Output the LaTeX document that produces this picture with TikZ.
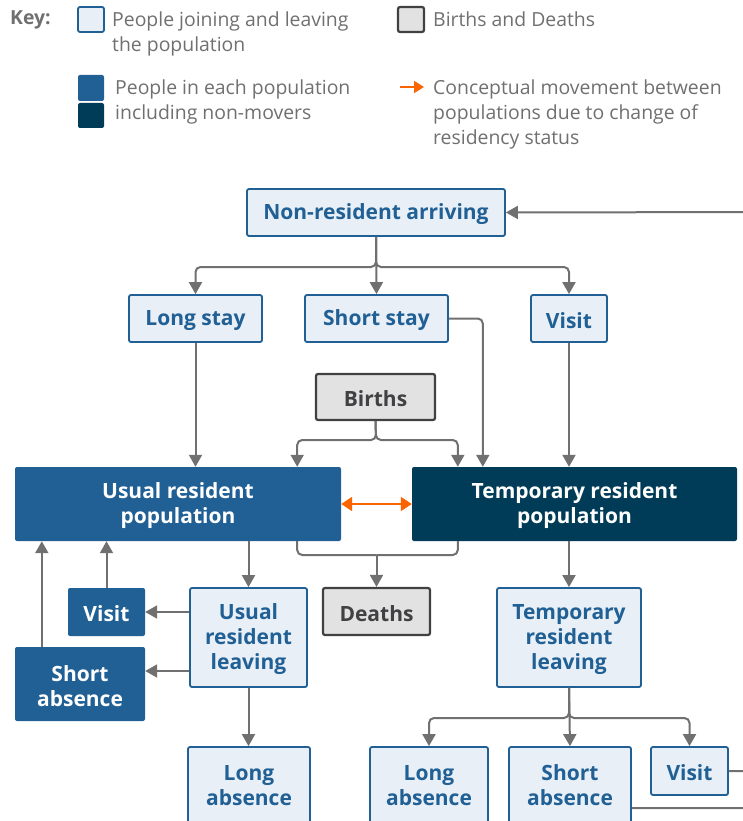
\documentclass[tikz,border=0pt]{standalone}
\usepackage{fontspec}
\setmainfont{Open Sans}
\usetikzlibrary{arrows.meta}
\definecolor{ons}{HTML}{206095}
\definecolor{onsdark}{HTML}{003C57}
\definecolor{lightfill}{HTML}{E9EFF6}
\definecolor{greyfill}{HTML}{E2E2E2}
\definecolor{greyline}{HTML}{414042}
\definecolor{conn}{HTML}{707070}
\definecolor{keytext}{HTML}{707070}
\definecolor{orng}{HTML}{FA6401}
\newcommand\bstrut{\rule{0pt}{19.8pt}}
\newcommand\kstrut{\rule{0pt}{18.6pt}}
\newcommand\dstrut{\rule[-8pt]{0pt}{8pt}}
\begin{document}
\begin{tikzpicture}[x=1pt,y=-1pt,
  boxfont/.style={font=\fontsize{21}{25}\selectfont\bfseries},
  box/.style={draw=ons, line width=1.8pt, fill=lightfill, rounded corners=2pt, text=ons, boxfont, align=center, inner sep=0pt},
  gbox/.style={draw=greyline, line width=2.2pt, fill=greyfill, rounded corners=2pt, text=greyline, boxfont, align=center, inner sep=0pt},
  pop/.style={fill=ons, rounded corners=2pt, text=white, boxfont, align=center, inner sep=0pt},
  popd/.style={pop, fill=onsdark},
  arr/.style={draw=conn, line width=2pt, -{Triangle[width=13pt,length=12pt]}, rounded corners=5pt},
  ln/.style={draw=conn, line width=2pt, rounded corners=5pt},
  keyt/.style={text=keytext, font=\fontsize{19.4}{25}\selectfont, align=left, anchor=west, inner sep=0pt},
  sz/.style 2 args={minimum width=#1, minimum height=#2},
]
\useasboundingbox (0,0) rectangle (743,821);
\clip (0,0) rectangle (743,821);
\fill[white] (0,0) rectangle (743,821);

% ---------- key ----------
\node[keyt, font=\fontsize{19.4}{25}\selectfont\bfseries] (keyl) at (10,19.5) {Key:};
\node[box, sz={26pt}{25pt}] (k1) at (91,19.5) {};
\node[keyt] (k1t) at (112,32) {\kstrut People joining and leaving\\the population};
\node[gbox, sz={26pt}{25pt}] (k2) at (411,19.5) {};
\node[keyt] (k2t) at (433,19.5) {Births and Deaths};
\node[pop, sz={26pt}{26pt}] (k3) at (91,88) {};
\node[popd, sz={26pt}{25pt}] (k4) at (91,115.5) {};
\node[keyt] (k3t) at (115,100) {\kstrut People in each population\\including non-movers};
\coordinate (ka1) at (400,87);
\coordinate (ka2) at (424,87);
\draw[draw=orng, line width=2pt, -{Triangle[width=12pt,length=10pt]}] (ka1) -- (ka2);
\node[keyt] (k4t) at (433,113) {\kstrut Conceptual movement between\\populations due to change of\\residency status};

% ---------- nodes ----------
\node[box, sz={258pt}{47pt}] (nra) at (376,212.5) {\bstrut Non-resident arriving};
\node[box, sz={133pt}{47pt}] (ls) at (195.5,318.5) {\bstrut Long stay};
\node[box, sz={143pt}{47pt}] (ss) at (376.5,318.5) {\bstrut Short stay};
\node[box, sz={76pt}{47pt}] (vis) at (569,318.5) {\bstrut Visit};
\node[gbox, sz={119pt}{46pt}] (births) at (375.5,397) {\bstrut Births};
\node[pop, sz={326pt}{74pt}] (urp) at (178,504) {\bstrut Usual resident\\population};
\node[popd, sz={325pt}{74pt}] (trp) at (574.5,504) {\bstrut Temporary resident\\population};
\node[gbox, sz={107pt}{47pt}] (deaths) at (376.5,611.5) {\bstrut Deaths};
\node[box, sz={117pt}{99pt}] (url) at (248.5,637.5) {\bstrut Usual\\resident\\leaving};
\node[pop, sz={77pt}{48pt}] (vl) at (106.5,612) {\bstrut Visit};
\node[pop, sz={130pt}{74pt}] (sal) at (80,684) {\bstrut Short\\absence};
\node[box, sz={122pt}{80pt}] (lal) at (249,787) {\bstrut Long\\absence\dstrut};
\node[box, sz={144pt}{99pt}] (trl) at (569,637.5) {\bstrut Temporary\\resident\\leaving};
\node[box, sz={118pt}{80pt}] (lar) at (429,787) {\bstrut Long\\absence\dstrut};
\node[box, sz={122pt}{80pt}] (sar) at (570,787) {\bstrut Short\\absence\dstrut};
\node[box, sz={77pt}{48pt}] (vr) at (689.5,771) {\bstrut Visit};

% ---------- connectors ----------
\coordinate (j1) at (376,267);
\draw[arr] (nra.south) -- (j1) -| (ls.north);
\draw[arr] (nra.south) -- (j1) -| (vis.north);
\draw[arr] (nra.south) -- (ss.north);

\draw[arr] (ls.south) -- (ls.south |- urp.north);
\draw[arr] (vis.south) -- (vis.south |- trp.north);
\coordinate (ssin) at ([xshift=71pt]trp.north west);
\draw[arr] (ss.east) -| (ssin);

\coordinate (jb) at (376,440);
\coordinate (bu) at ([xshift=-44pt]urp.north east);
\coordinate (bt) at ([xshift=46pt]trp.north west);
\draw[arr] (births.south) -- (jb) -| (bu);
\draw[arr] (births.south) -- (jb) -| (bt);

\draw[draw=orng, line width=2pt, {Triangle[width=14pt,length=11pt]}-{Triangle[width=14pt,length=11pt]}] (urp.east) -- (trp.west);

\coordinate (du) at ([xshift=-44pt]urp.south east);
\coordinate (dt) at ([xshift=46pt]trp.south west);
\coordinate (jd) at (376.5,555);
\draw[ln] (du) |- (jd);
\draw[ln] (dt) |- (jd);
\draw[arr] (jd) -- (deaths.north);

\draw[arr] (url.north |- urp.south) -- (url.north);
\draw[arr] (url.west |- vl.east) -- (vl.east);
\coordinate (sain) at ([yshift=13pt]sal.east);
\draw[arr] (url.west |- sain) -- (sain);
\draw[arr] (vl.north) -- (vl.north |- urp.south);
\coordinate (saup) at ([xshift=27pt]sal.north west);
\draw[arr] (saup) -- (saup |- urp.south);
\draw[arr] (url.south) -- (url.south |- lal.north);

\draw[arr] (trl.north |- trp.south) -- (trl.north);
\coordinate (j2) at (569,718);
\draw[arr] (trl.south) -- (j2) -| (lar.north);
\draw[arr] (trl.south) -- (j2) -| (vr.north);
\draw[arr] (trl.south) -- (sar.north);

\coordinate (offr) at (765,212);
\coordinate (saout) at ([yshift=-21pt]sar.east);
\draw[ln] (saout) -| (offr);
\draw[ln] (vr.east) -| (offr);
\draw[arr] (offr) -- (nra.east);
\end{tikzpicture}
\end{document}
